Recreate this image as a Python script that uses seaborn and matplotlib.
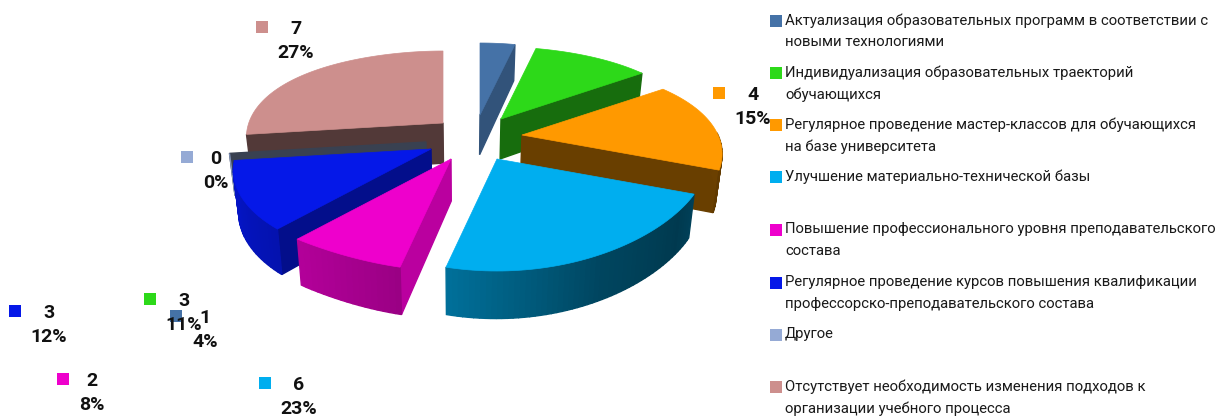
import numpy as np
import pandas as pd
import matplotlib
matplotlib.use('Agg')
import matplotlib.pyplot as plt
import seaborn as sns

# Data
categories = [
    'Актуализация образовательных программ в соответствии с\nновыми технологиями',
    'Индивидуализация образовательных траекторий\nобучающихся',
    'Регулярное проведение мастер-классов для обучающихся\nна базе университета',
    'Улучшение материально-технической базы',
    'Повышение профессионального уровня преподавательского\nсостава',
    'Регулярное проведение курсов повышения квалификации\nпрофессорско-преподавательского состава',
    'Другое',
    'Отсутствует необходимость изменения подходов к\nорганизации учебного процесса',
]
counts = [1, 3, 4, 6, 2, 3, 0, 7]
percents = ['4%', '11%', '15%', '23%', '8%', '12%', '0%', '27%']
colors = ['#4572a7', '#2dd919', '#ff9900', '#00aeef', '#ee00cc', '#0518e8', '#95aad5', '#cd8f8d']

# Layout, in pixels of the 1222x416 picture
apex_x = [480, 501, 522, 497, 451, 431, 426, 443]
apex_y = [115, 119, 135, 159, 159, 149, 142, 123]
wall_shade = [0.73, 0.50, 0.41, 0.4, 0.78, 0.60, 0.38, 0.40]
label_x = [176, 150, 719, 265, 63, 15, 187, 262]
label_y = [316, 299, 93, 383, 379, 311, 157, 27]
number_x = [205, 184, 753, 299, 92, 49, 216, 296]
legend_y = [21, 73, 125, 177, 230, 283, 335, 387]
draw_order = [7, 6, 0, 1, 2, 5, 4, 3]

sns.set_theme(style='white')
plt.rcParams['font.family'] = ['Roboto', 'Liberation Sans', 'DejaVu Sans']
palette = sns.color_palette(colors)

fig = plt.figure(figsize=(12.22, 4.16), dpi=100)
ax = fig.add_axes([0, 0, 1, 1])
ax.set_xlim(0, 1222)
ax.set_ylim(416, 0)
ax.axis('off')


def top_point(i, t):
    # perspective: the far side of the pie looks smaller than the near side
    a = np.interp(np.degrees(t), [0, 14, 55, 111, 194, 221, 263, 360],
                  [146, 146, 171, 211, 213, 232, 198, 146])
    b = 92 - 20 * np.cos(t)
    return apex_x[i] + a * np.sin(t), apex_y[i] - b * np.cos(t)


def bottom_point(x, y):
    return x - (x - 463) * 0.0235, y + 34 + 0.05 * y


def shade(color, f):
    return tuple(c * f for c in color)


def wall(p, q, color):
    x0, y0 = bottom_point(*p)
    x1, y1 = bottom_point(*q)
    ax.fill([p[0], q[0], x1, x0], [p[1], q[1], y1, y0], color=color, lw=1)


# Slice angles come from the values, clockwise from the top
edges = np.radians(np.cumsum([0] + counts) / sum(counts) * 360)

for i in draw_order:
    t0, t1 = edges[i], edges[i + 1]
    ts = np.linspace(t0, t1, max(int(np.degrees(t1 - t0) / 1.5), 2))
    apex = (apex_x[i], apex_y[i])

    # cut faces that look at the viewer
    if t1 < np.pi and t1 > t0:
        wall(apex, top_point(i, t1), shade(palette[i], wall_shade[i]))
    if t0 > np.pi:
        wall(apex, top_point(i, t0), shade(palette[i], wall_shade[i]))

    # outer rim, darker towards the right
    for a, b in zip(ts[:-1], ts[1:]):
        if np.pi / 2 < b and b <= np.radians(263.5):
            f = np.interp(np.degrees(a), [100, 120, 150, 194, 220, 250],
                          [0.42, 0.33, 0.40, 0.65, 0.75, 0.85])
            wall(top_point(i, a), top_point(i, b), shade(palette[i], f))

    # top surface
    if counts[i] > 0:
        px, py = top_point(i, ts)
        ax.fill(np.r_[apex[0], px], np.r_[apex[1], py], color=palette[i], lw=0.5)

# Value labels
df = pd.DataFrame({'x': label_x, 'y': label_y, 'name': categories})
sns.scatterplot(data=df, x='x', y='y', hue='name', palette=palette, marker='s', s=63,
                linewidth=0, legend=False, ax=ax)
for i in range(len(counts)):
    ax.text(number_x[i], label_y[i] + 2, str(counts[i]), ha='center', va='center',
            fontsize=14, fontweight='bold', color='#111111')
    ax.text(number_x[i], label_y[i] + 26, percents[i], ha='center', va='center',
            fontsize=14, fontweight='bold', color='#111111')

# Legend, written out to keep the original row positions
legend_df = pd.DataFrame({'x': [776] * 8, 'y': legend_y, 'name': categories})
sns.scatterplot(data=legend_df, x='x', y='y', hue='name', palette=palette, marker='s', s=63,
                linewidth=0, legend=False, ax=ax)
for i, name in enumerate(categories):
    ax.text(785, legend_y[i] - 8, name, ha='left', va='top', fontsize=10.75, color='#1a1a1a',
            linespacing=1.72)

fig.savefig('out.png', dpi=100)
